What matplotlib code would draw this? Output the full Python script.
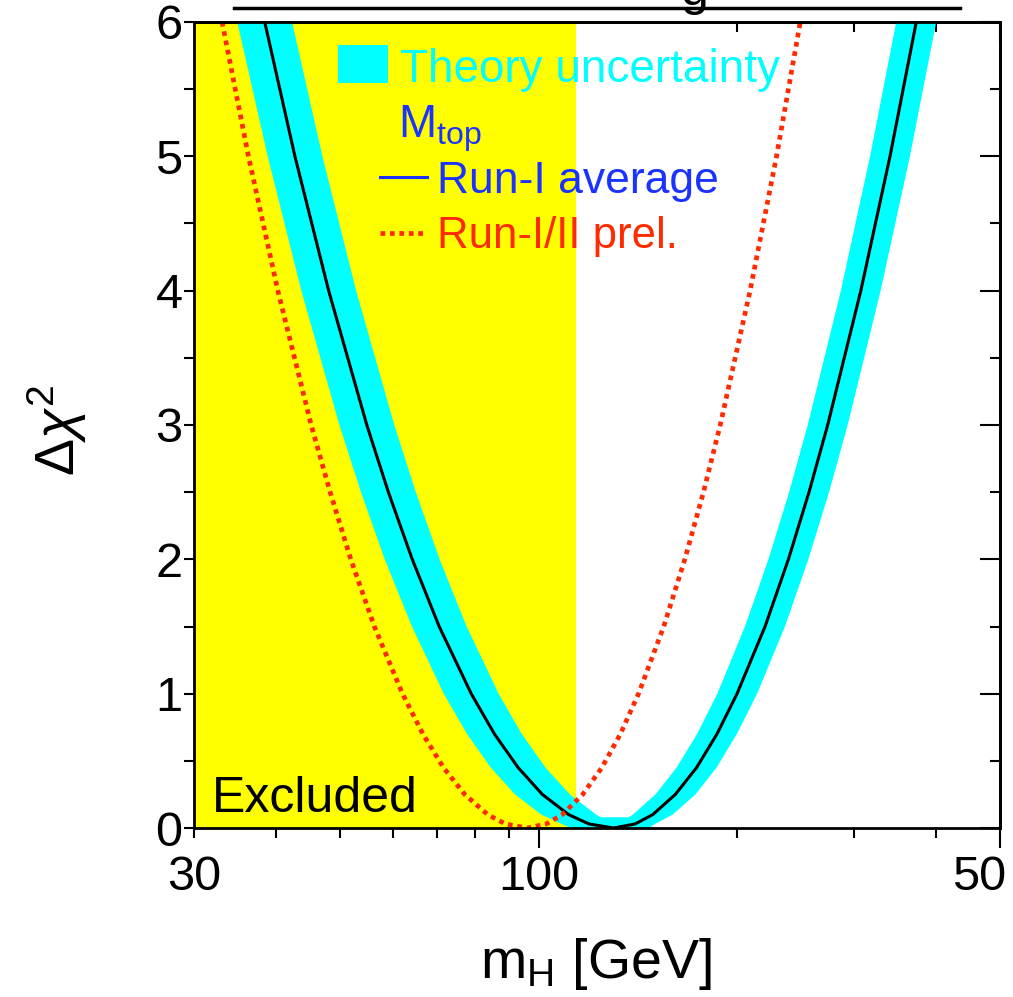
import numpy as np
import matplotlib
matplotlib.use('Agg')
import matplotlib.pyplot as plt
from matplotlib.patches import Rectangle
from matplotlib.lines import Line2D
from matplotlib.ticker import NullFormatter
from matplotlib.transforms import offset_copy

plt.rcParams['font.family'] = ['Liberation Sans', 'DejaVu Sans']
plt.rcParams['mathtext.fontset'] = 'custom'
plt.rcParams['mathtext.rm'] = 'Liberation Sans'
plt.rcParams['mathtext.it'] = 'Liberation Sans:italic'
plt.rcParams['mathtext.bf'] = 'Liberation Sans:bold'

# Delta chi^2 vs m_H [GeV]
run1_mass = [38.4, 42.67, 48.0, 54.84, 59.13, 64.27, 70.6, 78.95, 85.61, 92.99, 101.2,
             110.9, 119.1, 129.8, 139.9, 148.8, 161.0, 173.4, 186.2, 199.7, 220.2,
             238.9, 256.7, 274.0, 307.6, 340.6, 373.3]
run1_dchi2 = [6.0, 5.0, 4.0, 3.0, 2.5, 2.0, 1.5, 1.0, 0.7, 0.45, 0.25,
              0.1, 0.03, 0.0, 0.03, 0.1, 0.25, 0.45, 0.7, 1.0, 1.5,
              2.0, 2.5, 3.0, 4.0, 5.0, 6.0]

run12_mass = [33.09, 36.28, 40.2, 45.16, 48.25, 51.86, 56.3, 62.11, 66.69, 71.65, 77.18,
              83.61, 88.96, 95.92, 102.6, 108.5, 116.5, 124.6, 132.9, 141.6, 154.6,
              166.4, 177.6, 188.3, 209.0, 229.2, 249.0]
run12_dchi2 = [6.0, 5.0, 4.0, 3.0, 2.5, 2.0, 1.5, 1.0, 0.7, 0.45, 0.25,
               0.1, 0.03, 0.0, 0.03, 0.1, 0.25, 0.45, 0.7, 1.0, 1.5,
               2.0, 2.5, 3.0, 4.0, 5.0, 6.0]

# theory uncertainty band, its four edges
left_outer_mass = [34.89, 38.8, 43.63, 49.84, 53.73, 58.38, 64.19, 71.73, 77.8, 84.52,
                   91.99, 100.8, 108.2, 111.8]
left_outer_dchi2 = [6.0, 5.0, 4.0, 3.0, 2.5, 2.0, 1.5, 1.0, 0.7, 0.45, 0.25, 0.1, 0.03, 0.0]
left_inner_mass = [42.25, 46.97, 52.83, 60.36, 65.08, 70.71, 77.7, 86.87, 94.19, 102.3,
                   111.4, 122.1, 124.1]
left_inner_dchi2 = [6.0, 5.0, 4.0, 3.0, 2.5, 2.0, 1.5, 1.0, 0.7, 0.45, 0.25, 0.1, 0.08]
right_inner_mass = [136.8, 138.8, 150.2, 161.7, 173.7, 186.4, 205.3, 222.8, 239.5, 255.6,
                    286.9, 317.7, 348.1]
right_inner_dchi2 = [0.08, 0.1, 0.25, 0.45, 0.7, 1.0, 1.5, 2.0, 2.5, 3.0, 4.0, 5.0, 6.0]
right_outer_mass = [146.6, 150.0, 159.5, 172.7, 185.9, 199.6, 214.2, 236.0, 256.1, 275.3,
                    293.8, 329.6, 365.1, 400.2]
right_outer_dchi2 = [0.0, 0.03, 0.1, 0.25, 0.45, 0.7, 1.0, 1.5, 2.0, 2.5, 3.0, 4.0, 5.0, 6.0]

excluded_limit = 114.0

CYAN = '#00ffff'
YELLOW = '#ffff00'
BLUE = '#1a33ff'
RED = '#ff2a00'

W, H = 1013, 997
fig = plt.figure(figsize=(W / 100, H / 100), dpi=100)
ax = fig.add_axes([194 / W, 1 - 828 / H, 806 / W, 806 / H])
ax.set_xscale('log')
ax.set_xlim(30, 500)
ax.set_ylim(0, 6)

ax.axvspan(30, excluded_limit, color=YELLOW, lw=0, zorder=0)

# band polygon: outer edges going up, inner edges coming back
band_x = left_outer_mass + right_outer_mass + right_inner_mass[::-1] + left_inner_mass[::-1]
band_y = left_outer_dchi2 + right_outer_dchi2 + right_inner_dchi2[::-1] + left_inner_dchi2[::-1]
ax.fill(band_x, band_y, color=CYAN, lw=0, zorder=1)

ax.plot(run1_mass, run1_dchi2, color='black', lw=2.2, zorder=3, solid_joinstyle='round')
ax.plot(run12_mass, run12_dchi2, color=RED, lw=3.4, linestyle=(0, (1.0, 1.0)), zorder=4)

# ticks
minor_x = [30, 40, 50, 60, 70, 80, 90, 200, 300, 400]
ax.set_xticks([100, 500])
ax.set_xticklabels(['100', ''])
ax.set_xticks(minor_x, minor=True)
ax.set_xticklabels(['30'] + [''] * (len(minor_x) - 1), minor=True)
ax.tick_params(axis='x', which='major', direction='out', length=14.4, width=1.5,
               pad=5, labelsize=35, top=False)
ax.tick_params(axis='x', which='minor', direction='out', length=7.2, width=1.5,
               pad=12.2, labelsize=35, top=False)
# the last label only shows as "50" at the right edge
ax.text(500, 0, '50', fontsize=35, ha='center', va='top',
        transform=offset_copy(ax.get_xaxis_transform(), fig=fig, x=-21, y=-27, units='dots'))

ax.set_yticks(range(7))
ax.set_yticks(np.arange(0.5, 6, 1), minor=True)
ax.tick_params(axis='y', which='both', direction='out', length=7.2, width=1.5,
               pad=1, labelsize=35, right=False)

secx = ax.secondary_xaxis('top')
secx.set_xticks([500])
secx.set_xticks([200, 300, 400], minor=True)
secx.xaxis.set_major_formatter(NullFormatter())
secx.xaxis.set_minor_formatter(NullFormatter())
secx.tick_params(which='major', direction='in', length=14.4, width=1.5)
secx.tick_params(which='minor', direction='in', length=7.2, width=1.5)

secy = ax.secondary_yaxis('right')
secy.set_yticks(range(7))
secy.set_yticks(np.arange(0.5, 6, 1), minor=True)
secy.yaxis.set_major_formatter(NullFormatter())
secy.yaxis.set_minor_formatter(NullFormatter())
secy.tick_params(which='major', direction='in', length=14.4, width=1.5)
secy.tick_params(which='minor', direction='in', length=7.2, width=1.5)

for s in ax.spines.values():
    s.set_linewidth(2)
    s.set_zorder(5)
secx.spines['top'].set_linewidth(2)
secy.spines['right'].set_linewidth(2)

# legend drawn by hand
ax.add_patch(Rectangle((0.1787, 0.9243), 0.062, 0.0472, transform=ax.transAxes,
                       color=CYAN, lw=0, zorder=6))
ax.text(0.2556, 0.9256, 'Theory uncertainty', transform=ax.transAxes, color=CYAN,
        fontsize=33, va='baseline', ha='left', zorder=6)
ax.text(0.253, 0.857, 'M$_{\\rm top}$', transform=ax.transAxes, color=BLUE,
        fontsize=33, va='baseline', ha='left', zorder=6)
ax.add_line(Line2D([0.2308, 0.2891], [0.8077, 0.8077], transform=ax.transAxes,
                   color=BLUE, lw=2.2, zorder=6))
ax.text(0.3015, 0.7878, 'Run-I average', transform=ax.transAxes, color=BLUE,
        fontsize=32, va='baseline', ha='left', zorder=6)
ax.add_line(Line2D([0.2308, 0.2891], [0.7382, 0.7382], transform=ax.transAxes,
                   color=RED, lw=3.4, linestyle=(0, (1.0, 1.0)), zorder=6))
ax.text(0.3015, 0.7196, 'Run-I/II prel.', transform=ax.transAxes, color=RED,
        fontsize=31.5, va='baseline', ha='left', zorder=6)

ax.text(0.0223, 0.0199, 'Excluded', transform=ax.transAxes, color='black',
        fontsize=36, va='baseline', ha='left', zorder=6)

# axis titles
fig.text(596 / W, 1 - 978 / H, 'm$_{\\rm H}$ [GeV]', fontsize=40, ha='center', va='baseline')
fig.text(57 / W, 1 - 430 / H, '$\\Delta\\chi^{2}$', fontsize=40, rotation=90,
         ha='center', va='center')

# cut-off title line at the very top
fig.add_artist(Line2D([234 / W, 960 / W], [1 - 8 / H, 1 - 8 / H], transform=fig.transFigure,
                      color='black', lw=2.5))
fig.text(695 / W, 1 - 5 / H, 'g', fontsize=36, ha='center', va='baseline')

fig.savefig('out.png', dpi=100)
